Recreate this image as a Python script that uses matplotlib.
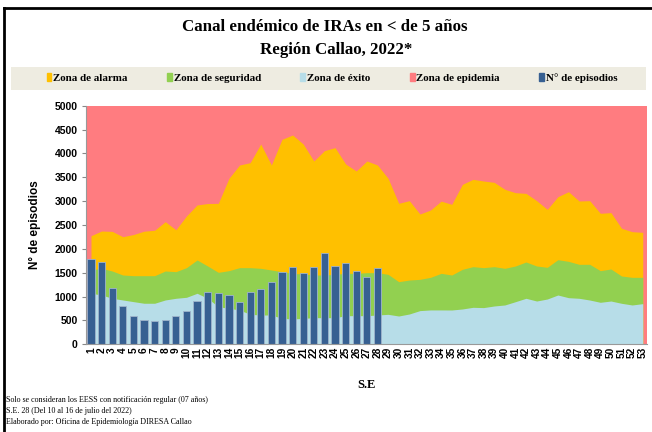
import matplotlib
matplotlib.use("Agg")
import matplotlib.pyplot as plt
from matplotlib.patches import Patch, Rectangle
from matplotlib.lines import Line2D

# semanas epidemiologicas
semanas = list(range(1, 54))

# limite superior de cada zona
alarma = [2276, 2374, 2366, 2255, 2300, 2370, 2390, 2570, 2400, 2690,
          2920, 2950, 2954, 3478, 3757, 3806, 4197, 3757, 4295, 4386,
          4197, 3841, 4058, 4121, 3778, 3632, 3841, 3757, 3478, 2954,
          3010, 2730, 2814, 3000, 2933, 3352, 3457, 3422, 3394, 3248,
          3177, 3163, 3010, 2828, 3093, 3198, 3003, 3010, 2745, 2759,
          2431, 2360, 2346]
seguridad = [1557, 1592, 1536, 1452, 1438, 1438, 1438, 1536, 1522, 1606,
             1767, 1640, 1508, 1543, 1606, 1606, 1592, 1557, 1522, 1487,
             1473, 1452, 1452, 1466, 1487, 1487, 1501, 1501, 1466, 1312,
             1347, 1361, 1403, 1487, 1452, 1571, 1627, 1606, 1627, 1592,
             1641, 1725, 1641, 1613, 1773, 1738, 1676, 1676, 1543, 1578,
             1431, 1403, 1403]
exito = [1069, 1034, 964, 929, 894, 860, 860, 929, 964, 985,
         1069, 964, 788, 754, 720, 628, 614, 614, 544, 530,
         544, 558, 558, 558, 600, 600, 600, 614, 628, 593,
         635, 706, 720, 720, 719, 740, 775, 769, 803, 824,
         893, 964, 907, 949, 1033, 977, 964, 928, 880, 907,
         859, 824, 852]
# N° de episodios 2022 (SE 1 a 28)
episodios = [1787, 1718, 1187, 803, 593, 509, 488, 509, 593, 705,
             901, 1089, 1068, 1033, 880, 1103, 1159, 1299, 1508, 1613,
             1487, 1613, 1906, 1641, 1697, 1543, 1403, 1592]

c_epid = "#FF7C80"
c_alar = "#FFC000"
c_seg = "#92D050"
c_exi = "#B7DDE8"
c_bar = "#376092"

fig = plt.figure(figsize=(6.52, 4.32), dpi=100)
W, H = 652, 432

# marco exterior y banda de leyenda
fig.add_artist(Line2D([4 / W, 4 / W], [0, 1 - 8 / H], color="black", lw=2))
fig.add_artist(Line2D([4 / W, 1], [1 - 8 / H, 1 - 8 / H], color="black", lw=2))
fig.add_artist(Rectangle((11 / W, 1 - 90 / H), (646 - 11) / W, 23 / H,
                         facecolor="#EEECE1", edgecolor="none"))

serif = "Liberation Serif"
fig.text(325 / W, 1 - 27 / H, "Canal endémico de IRAs en < de 5 años",
         ha="center", va="center", family=serif, weight="bold", fontsize=12.2)
fig.text(336 / W, 1 - 50 / H, "Región Callao, 2022*",
         ha="center", va="center", family=serif, weight="bold", fontsize=12.2)

ax = fig.add_axes([86 / W, 1 - 344.3 / H, (647 - 86) / W, (344.3 - 105.7) / H])
ax.set_facecolor(c_epid)
ax.fill_between(semanas, 0, alarma, color=c_alar, lw=0)
ax.fill_between(semanas, 0, seguridad, color=c_seg, lw=0)
ax.fill_between(semanas, 0, exito, color=c_exi, lw=0)
ax.bar(semanas[:len(episodios)], episodios, width=0.68, color=c_bar,
       edgecolor="#9fb4cc", linewidth=0.6)

ax.set_xlim(0.53, 53.4)
ax.set_ylim(0, 5000)
ax.set_yticks(range(0, 5001, 500))
ax.set_xticks(semanas)
ax.set_xticklabels([str(s) for s in semanas], rotation=90,
                   family="Liberation Sans", weight="bold", fontsize=7.3)
for lab in ax.get_yticklabels():
    lab.set_family("Liberation Sans")
    lab.set_weight("bold")
    lab.set_fontsize(7.5)
ax.tick_params(axis="x", length=0, pad=2)
ax.tick_params(axis="y", length=3, color="#888888", pad=3)
for s in ["top", "right"]:
    ax.spines[s].set_visible(False)
for s in ["left", "bottom"]:
    ax.spines[s].set_color("#999999")
    ax.spines[s].set_linewidth(0.8)

ax.set_ylabel("N° de episodios", family="Liberation Sans", weight="bold",
              fontsize=8.5, labelpad=10)
fig.text(367 / W, 1 - 385 / H, "S.E", ha="center", va="center",
         family=serif, weight="bold", fontsize=9)

handles = [Patch(color=c_alar), Patch(color=c_seg), Patch(color=c_exi),
           Patch(color=c_epid), Patch(color=c_bar)]
labels = ["Zona de alarma", "Zona de seguridad", "Zona de éxito",
          "Zona de epidemia", "N° de episodios"]
fig.legend(handles, labels, loc="center", bbox_to_anchor=(332 / W, 1 - 78 / H),
           ncol=5, frameon=False, handlelength=0.45, handleheight=0.7,
           handletextpad=0.15, columnspacing=3.6,
           prop={"family": serif, "weight": "bold", "size": 7.9})

notas = ["Solo se consideran los EESS con notificación regular (07 años)",
         "S.E. 28 (Del 10 al 16 de julio del 2022)",
         "Elaborado por: Oficina de Epidemiología DIRESA Callao"]
for i, t in enumerate(notas):
    fig.text(6 / W, 1 - (400 + 11 * i) / H, t, ha="left", va="center",
             family=serif, fontsize=5.8)

fig.savefig("out.png", dpi=100)
